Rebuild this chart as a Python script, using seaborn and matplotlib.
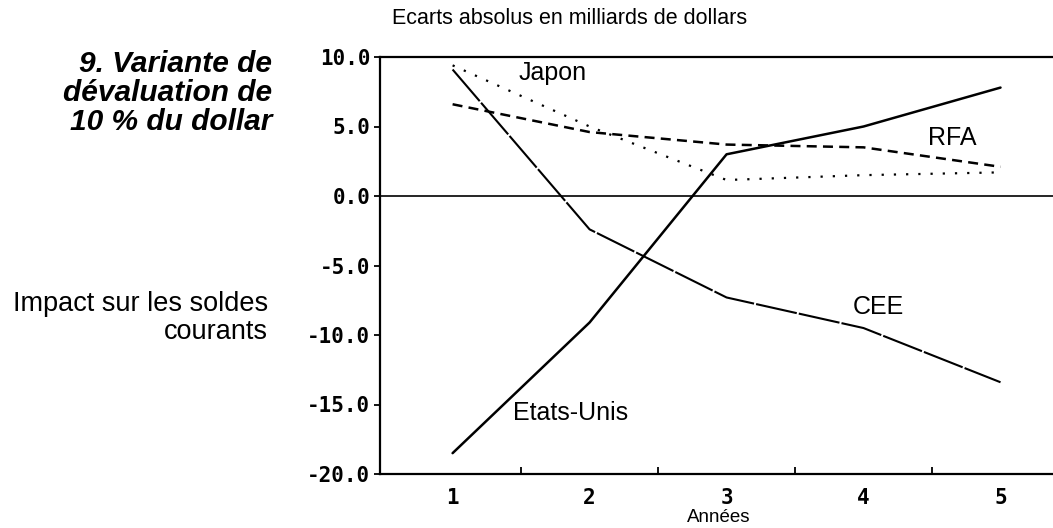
import matplotlib.pyplot as plt
import seaborn as sns

annees = [1, 2, 3, 4, 5]
etats_unis = [-18.5, -9.1, 3.0, 5.0, 7.8]
cee = [9.1, -2.4, -7.3, -9.5, -13.4]
rfa = [6.6, 4.6, 3.7, 3.5, 2.1]
japon = [9.4, 5.0, 1.15, 1.5, 1.7]

sns.set_style('ticks', {'text.color': 'black', 'xtick.color': 'black',
                        'ytick.color': 'black', 'axes.edgecolor': 'black'})
plt.rcParams['font.family'] = ['Liberation Sans', 'DejaVu Sans']

W, H = 1053, 528
fig = plt.figure(figsize=(W / 100, H / 100), dpi=100)
ax = fig.add_axes([380 / W, 54 / H, 1 - 380 / W + 0.01, (474 - 57) / H])

sns.lineplot(x=annees, y=etats_unis, ax=ax, color='black', lw=1.8)
sns.lineplot(x=annees, y=cee, ax=ax, color='black', lw=1.5, linestyle=(0, (20, 1)))
sns.lineplot(x=annees, y=rfa, ax=ax, color='black', lw=1.8, linestyle=(0, (4, 2.5)))
sns.lineplot(x=annees, y=japon, ax=ax, color='black', lw=1.6, linestyle=(0, (1, 4.5)))
ax.axhline(0, color='black', lw=1.2)

ax.set_xlim(0.47, 5.46)
ax.set_ylim(-20, 10)
ax.set_yticks([10, 5, 0, -5, -10, -15, -20])
ax.set_yticklabels(['10.0', '5.0', '0.0', '-5.0', '-10.0', '-15.0', '-20.0'])
ax.set_xticks(annees)
ax.set_xticks([1.5, 2.5, 3.5, 4.5], minor=True)
ax.tick_params(axis='x', which='major', length=0, pad=10)
ax.tick_params(axis='x', which='minor', length=5, direction='in', width=1.3)
ax.tick_params(axis='y', length=4, direction='out', width=1.3, pad=3)
for lab in ax.get_xticklabels() + ax.get_yticklabels():
    lab.set_fontfamily('DejaVu Sans Mono')
    lab.set_fontweight('bold')
    lab.set_fontsize(15)

ax.spines['right'].set_visible(False)
for s in ['left', 'top', 'bottom']:
    ax.spines[s].set_linewidth(1.6)

lab_kw = dict(fontsize=18, ha='center', va='center')
ax.text(1.73, 8.85, 'Japon', **lab_kw)
ax.text(4.65, 4.15, 'RFA', **lab_kw)
ax.text(4.11, -8.0, 'CEE', **lab_kw)
ax.text(1.86, -15.6, 'Etats-Unis', **lab_kw)

fig.text(719 / W, 1 - 518 / H, 'Années', fontsize=13.5, ha='center', va='center')
fig.text(392 / W, 1 - 19 / H, 'Ecarts absolus en milliards de dollars',
         fontsize=15.5, ha='left', va='center')
fig.text(272 / W, 1 - 93 / H, '9. Variante de\ndévaluation de\n10 % du dollar',
         fontsize=21.5, style='italic', fontweight='bold', ha='right', va='center',
         linespacing=1.05)
fig.text(268 / W, 1 - 318 / H, 'Impact sur les soldes\ncourants',
         fontsize=19.5, ha='right', va='center', linespacing=1.1)

fig.savefig('out.png', dpi=100)
